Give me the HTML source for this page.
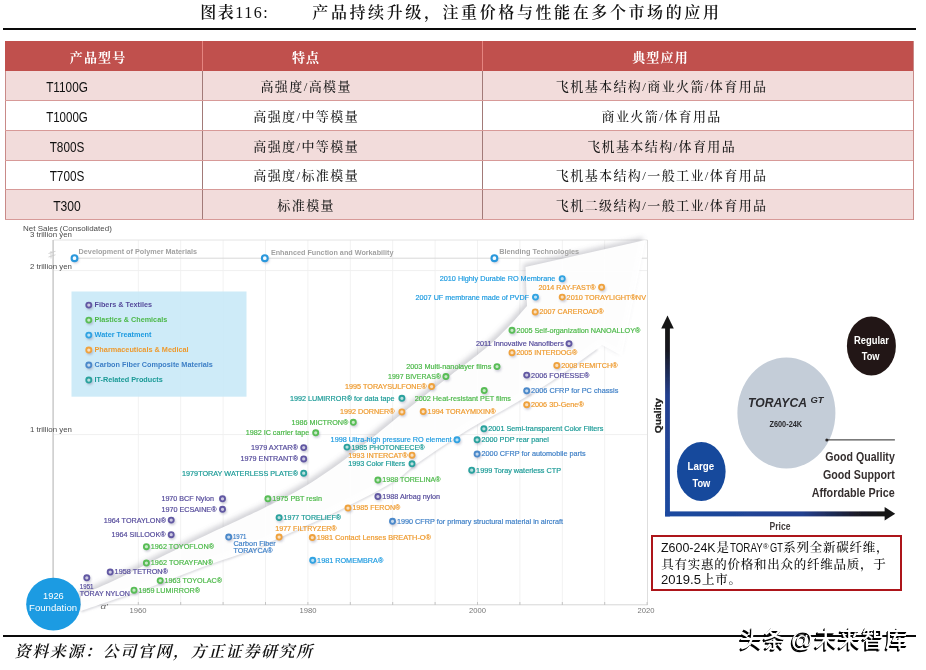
<!DOCTYPE html>
<html lang="zh-CN"><head><meta charset="utf-8"><title>图表116</title>
<style>
html,body{margin:0;padding:0;background:#fff;}
body{width:926px;height:670px;position:relative;overflow:hidden;font-family:"Liberation Sans", sans-serif;}
.abs{position:absolute;white-space:nowrap;}
.title{left:200.3px;top:1px;font:600 16px/24px "Liberation Serif", "Noto Serif CJK SC", serif;color:#111;}
.title .a{letter-spacing:1.5px}
.title .b{letter-spacing:2.6px;position:absolute;left:112px;top:0}
.rule{position:absolute;background:#0a0a0a;height:2px;}
.tbl{position:absolute;left:0;top:0;width:926px;height:222px;}
.row{position:absolute;left:5.2px;width:908.5px;box-sizing:border-box;border-bottom:1px solid #d79a98;}
.row.hd{background:#c0504d;border-bottom:none}
.row.odd{background:#f2dcdb}
.row.even{background:#fff}
.cell{position:absolute;top:0;height:100%;box-sizing:border-box;border-left:1px solid #a27a78;}
.row.hd .cell{border-left:1px solid #e58480;}
.cell.c0{border-left:1px solid #c98a88}
.row.hd .cell.c0{border-left:1px solid #c0504d}
.cell span{position:absolute;top:50%;transform:translate(-50%,-50%);white-space:nowrap;}
.kai{font:500 13px/20px "Liberation Serif", "Noto Serif CJK SC", serif;color:#1a1a1a;letter-spacing:1.4px;margin-top:1.6px;margin-left:.2px}
.lat{font:14px/20px "Liberation Sans", sans-serif;color:#111;margin-top:1.7px;margin-left:-1.2px}
.fit{display:inline-block;white-space:nowrap;vertical-align:baseline;}
.fit>span{display:inline-block;transform-origin:0 50%;white-space:nowrap;}
.cell span.fit,.cell span.fit>span{position:static;top:auto;}
.cell span.fit{transform:none}
.row.hd .kai{color:#fff;font-weight:bold;margin-top:2.2px;margin-left:-.9px;letter-spacing:1.2px}
.tblframe{position:absolute;left:5.2px;top:41.3px;width:908.5px;height:178.6px;box-sizing:border-box;border-right:1px solid #c98a88;pointer-events:none}
svg{position:absolute;left:0;top:0;}
svg text{font-family:"Liberation Sans", sans-serif;}
.note{position:absolute;left:651px;top:534.5px;width:250.5px;height:56px;box-sizing:border-box;border:2px solid #ad151a;background:#fff;}
.note p{margin:0;position:absolute;left:8.2px;white-space:nowrap;font:500 12.5px/16px "Liberation Serif", "Noto Serif CJK SC", serif;color:#111;letter-spacing:.75px}
.note p .fit{letter-spacing:0;margin-right:.75px}
.note p .fit.sup{position:relative;top:-3.5px}
.src{left:14.6px;top:640px;font:italic 600 16px/24px "Liberation Serif", "Noto Serif CJK SC", serif;color:#111;letter-spacing:1.6px;}
.wm{left:739.5px;top:622.5px;font:500 22.6px/34px "Liberation Sans","Noto Sans CJK SC",sans-serif;color:#fff;letter-spacing:1px;word-spacing:-3.4px;text-shadow:-.8px .8px 0 #000,-1.6px 1.6px 0 #000;}
</style></head><body>
<div class="abs title"><span class="a">图表<span style="font-weight:400">116:</span></span><span class="b">产品持续升级，注重价格与性能在多个市场的应用</span></div>
<div class="rule" style="left:3px;top:28.3px;width:912.7px"></div>
<div class="tbl">
<div class="row hd" style="top:41.3px;height:30.0px">
<div class="cell c0" style="left:0.0px;width:197.2px"><span class="kai" style="left:92.8px">产品型号</span></div>
<div class="cell c1" style="left:197.2px;width:280.0px"><span class="kai" style="left:103.6px">特点</span></div>
<div class="cell c2" style="left:477.2px;width:431.3px"><span class="kai" style="left:178.1px">典型应用</span></div>
</div>
<div class="row odd" style="top:71.3px;height:29.8px">
<div class="cell c0" style="left:0.0px;width:197.2px"><span class="lat" style="left:61.8px"><span class="fit " style="width:41.70px;font:14px/20px 'Liberation Sans',sans-serif"><span style="transform:scaleX(0.8416)">T1100G</span></span></span></div>
<div class="cell c1" style="left:197.2px;width:280.0px"><span class="kai" style="left:102.6px">高强度/高模量</span></div>
<div class="cell c2" style="left:477.2px;width:431.3px"><span class="kai" style="left:178.1px">飞机基本结构/商业火箭/体育用品</span></div>
</div>
<div class="row even" style="top:101.1px;height:29.7px">
<div class="cell c0" style="left:0.0px;width:197.2px"><span class="lat" style="left:61.8px"><span class="fit " style="width:41.70px;font:14px/20px 'Liberation Sans',sans-serif"><span style="transform:scaleX(0.8242)">T1000G</span></span></span></div>
<div class="cell c1" style="left:197.2px;width:280.0px"><span class="kai" style="left:102.6px">高强度/中等模量</span></div>
<div class="cell c2" style="left:477.2px;width:431.3px"><span class="kai" style="left:178.1px">商业火箭/体育用品</span></div>
</div>
<div class="row odd" style="top:130.8px;height:29.9px">
<div class="cell c0" style="left:0.0px;width:197.2px"><span class="lat" style="left:61.8px"><span class="fit " style="width:34.65px;font:14px/20px 'Liberation Sans',sans-serif"><span style="transform:scaleX(0.8400)">T800S</span></span></span></div>
<div class="cell c1" style="left:197.2px;width:280.0px"><span class="kai" style="left:102.6px">高强度/中等模量</span></div>
<div class="cell c2" style="left:477.2px;width:431.3px"><span class="kai" style="left:178.1px">飞机基本结构/体育用品</span></div>
</div>
<div class="row even" style="top:160.7px;height:29.2px">
<div class="cell c0" style="left:0.0px;width:197.2px"><span class="lat" style="left:61.8px"><span class="fit " style="width:34.65px;font:14px/20px 'Liberation Sans',sans-serif"><span style="transform:scaleX(0.8400)">T700S</span></span></span></div>
<div class="cell c1" style="left:197.2px;width:280.0px"><span class="kai" style="left:102.6px">高强度/标准模量</span></div>
<div class="cell c2" style="left:477.2px;width:431.3px"><span class="kai" style="left:178.1px">飞机基本结构/一般工业/体育用品</span></div>
</div>
<div class="row odd" style="top:189.9px;height:30.0px">
<div class="cell c0" style="left:0.0px;width:197.2px"><span class="lat" style="left:61.8px"><span class="fit " style="width:27.60px;font:14px/20px 'Liberation Sans',sans-serif"><span style="transform:scaleX(0.8646)">T300</span></span></span></div>
<div class="cell c1" style="left:197.2px;width:280.0px"><span class="kai" style="left:102.6px">标准模量</span></div>
<div class="cell c2" style="left:477.2px;width:431.3px"><span class="kai" style="left:178.1px">飞机二级结构/一般工业/体育用品</span></div>
</div>
</div>
<div class="tblframe"></div>
<svg width="926" height="670" viewBox="0 0 926 670">
<defs>
<filter id="sh" x="-50%" y="-50%" width="200%" height="200%"><feGaussianBlur stdDeviation="1"/></filter>
<filter id="soft2" filterUnits="userSpaceOnUse" x="0" y="215" width="700" height="425"><feGaussianBlur stdDeviation="0.3"/></filter>
<filter id="soft3" filterUnits="userSpaceOnUse" x="645" y="300" width="281" height="240"><feGaussianBlur stdDeviation="0.35"/></filter>
<filter id="sw1" x="-10%" y="-10%" width="120%" height="120%"><feGaussianBlur stdDeviation="1.3"/></filter>
<filter id="sw" x="-10%" y="-10%" width="120%" height="120%"><feGaussianBlur stdDeviation="2.8"/></filter>
<filter id="soft" filterUnits="userSpaceOnUse" x="0" y="220" width="700" height="420"><feGaussianBlur stdDeviation="0.4"/></filter>
<linearGradient id="gy" x1="0" y1="0" x2="0" y2="1"><stop offset="0" stop-color="#141414"/><stop offset=".12" stop-color="#17171e"/><stop offset=".36" stop-color="#24408f"/><stop offset="1" stop-color="#1a4aa0"/></linearGradient>
<linearGradient id="gx" x1="0" y1="0" x2="1" y2="0"><stop offset="0" stop-color="#1a4aa0"/><stop offset=".62" stop-color="#24408f"/><stop offset=".87" stop-color="#1a1a26"/><stop offset="1" stop-color="#141414"/></linearGradient>
</defs>
<g filter="url(#soft2)">
<line x1="138.3" y1="240" x2="138.3" y2="604" stroke="#f2f2f2" stroke-width="1"/>
<line x1="180.7" y1="240" x2="180.7" y2="604" stroke="#f2f2f2" stroke-width="1"/>
<line x1="223.1" y1="240" x2="223.1" y2="604" stroke="#f2f2f2" stroke-width="1"/>
<line x1="265.5" y1="240" x2="265.5" y2="604" stroke="#f2f2f2" stroke-width="1"/>
<line x1="307.9" y1="240" x2="307.9" y2="604" stroke="#f2f2f2" stroke-width="1"/>
<line x1="350.3" y1="240" x2="350.3" y2="604" stroke="#f2f2f2" stroke-width="1"/>
<line x1="392.7" y1="240" x2="392.7" y2="604" stroke="#f2f2f2" stroke-width="1"/>
<line x1="435.1" y1="240" x2="435.1" y2="604" stroke="#f2f2f2" stroke-width="1"/>
<line x1="477.5" y1="240" x2="477.5" y2="604" stroke="#f2f2f2" stroke-width="1"/>
<line x1="519.9" y1="240" x2="519.9" y2="604" stroke="#f2f2f2" stroke-width="1"/>
<line x1="562.3" y1="240" x2="562.3" y2="604" stroke="#f2f2f2" stroke-width="1"/>
<line x1="604.7" y1="240" x2="604.7" y2="604" stroke="#f2f2f2" stroke-width="1"/>
<line x1="53.5" y1="270.6" x2="647.5" y2="270.6" stroke="#f0f0f0" stroke-width="1"/>
<line x1="53.5" y1="434.6" x2="647.5" y2="434.6" stroke="#f0f0f0" stroke-width="1"/>
<line x1="53.5" y1="240" x2="647.5" y2="240" stroke="#e4e4e4" stroke-width="1"/>
<line x1="647.5" y1="240" x2="647.5" y2="605" stroke="#dedede" stroke-width="1"/>
<line x1="53.1" y1="240" x2="53.1" y2="580" stroke="#c6c6c6" stroke-width="1.4"/>
<line x1="74" y1="258.2" x2="647" y2="258.2" stroke="#d8d8d8" stroke-width="1"/>
<line x1="80" y1="604.8" x2="647.5" y2="604.8" stroke="#d6d6d6" stroke-width="1"/>
<line x1="138.3" y1="602" x2="138.3" y2="605" stroke="#c4c4c4" stroke-width="1"/>
<line x1="180.7" y1="602" x2="180.7" y2="605" stroke="#c4c4c4" stroke-width="1"/>
<line x1="223.1" y1="602" x2="223.1" y2="605" stroke="#c4c4c4" stroke-width="1"/>
<line x1="265.5" y1="602" x2="265.5" y2="605" stroke="#c4c4c4" stroke-width="1"/>
<line x1="307.9" y1="602" x2="307.9" y2="605" stroke="#c4c4c4" stroke-width="1"/>
<line x1="350.3" y1="602" x2="350.3" y2="605" stroke="#c4c4c4" stroke-width="1"/>
<line x1="392.7" y1="602" x2="392.7" y2="605" stroke="#c4c4c4" stroke-width="1"/>
<line x1="435.1" y1="602" x2="435.1" y2="605" stroke="#c4c4c4" stroke-width="1"/>
<line x1="477.5" y1="602" x2="477.5" y2="605" stroke="#c4c4c4" stroke-width="1"/>
<line x1="519.9" y1="602" x2="519.9" y2="605" stroke="#c4c4c4" stroke-width="1"/>
<line x1="562.3" y1="602" x2="562.3" y2="605" stroke="#c4c4c4" stroke-width="1"/>
<line x1="604.7" y1="602" x2="604.7" y2="605" stroke="#c4c4c4" stroke-width="1"/>
<line x1="647.1" y1="602" x2="647.1" y2="605" stroke="#c4c4c4" stroke-width="1"/>
<path d="M48.5,253.5 l7,-2.2 M48.5,257 l7,-2.2 M51,251 l0,7.5" stroke="#c8c8c8" stroke-width=".8" fill="none"/>
<rect x="71.5" y="291.5" width="175" height="105.2" fill="#cae9f8" fill-opacity=".93"/>
<path d="M81.0,595.0 C86.3,592.7 100.5,586.9 113.0,581.0 C125.5,575.1 141.5,566.7 156.0,559.5 C170.5,552.3 185.5,544.9 200.0,538.0 C214.5,531.1 231.3,523.5 243.0,518.0 C254.7,512.5 259.8,510.2 270.0,505.0 C280.2,499.8 292.3,494.0 304.0,487.0 C315.7,480.0 328.7,471.2 340.0,463.0 C351.3,454.8 359.7,447.8 372.0,438.0 C384.3,428.2 400.8,414.5 414.0,404.0 C427.2,393.5 440.7,383.0 451.0,375.0 C461.3,367.0 468.8,361.7 476.0,356.0 C483.2,350.3 488.0,346.5 494.0,341.0 C500.0,335.5 506.5,328.8 512.0,323.0 C517.5,317.2 524.5,308.8 527.0,306.0 L525.5,267 L645.6,240 L622,356 L602,345 L597,349 C589.5,354.3 567.0,371.2 552.0,381.0 C537.0,390.8 521.3,399.7 507.0,408.0 C492.7,416.3 480.8,421.8 466.0,431.0 C451.2,440.2 430.2,454.5 418.0,463.0 C405.8,471.5 406.0,474.2 393.0,482.0 C380.0,489.8 360.5,500.0 340.0,510.0 C319.5,520.0 286.2,534.8 270.0,542.0 C253.8,549.2 254.7,548.7 243.0,553.0 C231.3,557.3 214.5,562.7 200.0,568.0 C185.5,573.3 175.8,577.8 156.0,585.0 C136.2,592.2 93.5,606.7 81.0,611.0 Z" fill="#8c8c98" opacity=".37" filter="url(#sw)" transform="translate(-2.5,-3)"/>
<path d="M597,349 C589.5,354.3 567.0,371.2 552.0,381.0 C537.0,390.8 521.3,399.7 507.0,408.0 C492.7,416.3 480.8,421.8 466.0,431.0 C451.2,440.2 430.2,454.5 418.0,463.0 C405.8,471.5 406.0,474.2 393.0,482.0 C380.0,489.8 360.5,500.0 340.0,510.0 C319.5,520.0 286.2,534.8 270.0,542.0 C253.8,549.2 254.7,548.7 243.0,553.0 C231.3,557.3 214.5,562.7 200.0,568.0 C185.5,573.3 175.8,577.8 156.0,585.0 C136.2,592.2 93.5,606.7 81.0,611.0" fill="none" stroke="#b0b0ba" stroke-width="2.6" opacity=".5" filter="url(#sw1)"/>
<path d="M81.0,595.0 C86.3,592.7 100.5,586.9 113.0,581.0 C125.5,575.1 141.5,566.7 156.0,559.5 C170.5,552.3 185.5,544.9 200.0,538.0 C214.5,531.1 231.3,523.5 243.0,518.0 C254.7,512.5 259.8,510.2 270.0,505.0 C280.2,499.8 292.3,494.0 304.0,487.0 C315.7,480.0 328.7,471.2 340.0,463.0 C351.3,454.8 359.7,447.8 372.0,438.0 C384.3,428.2 400.8,414.5 414.0,404.0 C427.2,393.5 440.7,383.0 451.0,375.0 C461.3,367.0 468.8,361.7 476.0,356.0 C483.2,350.3 488.0,346.5 494.0,341.0 C500.0,335.5 506.5,328.8 512.0,323.0 C517.5,317.2 524.5,308.8 527.0,306.0 L525.5,267 L645.6,240 L622,356 L602,345 L597,349 C589.5,354.3 567.0,371.2 552.0,381.0 C537.0,390.8 521.3,399.7 507.0,408.0 C492.7,416.3 480.8,421.8 466.0,431.0 C451.2,440.2 430.2,454.5 418.0,463.0 C405.8,471.5 406.0,474.2 393.0,482.0 C380.0,489.8 360.5,500.0 340.0,510.0 C319.5,520.0 286.2,534.8 270.0,542.0 C253.8,549.2 254.7,548.7 243.0,553.0 C231.3,557.3 214.5,562.7 200.0,568.0 C185.5,573.3 175.8,577.8 156.0,585.0 C136.2,592.2 93.5,606.7 81.0,611.0 Z" fill="#ffffff" opacity=".97"/>
<circle cx="75.5" cy="259.8" r="3.6" fill="#7a7a98" opacity=".35" filter="url(#sh)"/>
<circle cx="74.5" cy="258.2" r="2.9" fill="#f4fbff" stroke="#2b98dc" stroke-width="2.1"/>
<text x="78.6" y="254.1" font-size="7" fill="#a2a2a2" font-weight="bold" text-anchor="start" textLength="118.4" lengthAdjust="spacingAndGlyphs" >Development of Polymer Materials</text>
<circle cx="265.8" cy="259.8" r="3.6" fill="#7a7a98" opacity=".35" filter="url(#sh)"/>
<circle cx="264.8" cy="258.2" r="2.9" fill="#f4fbff" stroke="#2b98dc" stroke-width="2.1"/>
<text x="270.9" y="254.7" font-size="7" fill="#a2a2a2" font-weight="bold" text-anchor="start" textLength="122.6" lengthAdjust="spacingAndGlyphs" >Enhanced Function and Workability</text>
<circle cx="495.4" cy="259.8" r="3.6" fill="#7a7a98" opacity=".35" filter="url(#sh)"/>
<circle cx="494.4" cy="258.2" r="2.9" fill="#f4fbff" stroke="#2b98dc" stroke-width="2.1"/>
<text x="499.2" y="254.3" font-size="7" fill="#a2a2a2" font-weight="bold" text-anchor="start" textLength="80.0" lengthAdjust="spacingAndGlyphs" >Blending Technologies</text>
<text x="23.0" y="230.8" font-size="8" fill="#4a4a4a" font-weight="normal" text-anchor="start" textLength="88.8" lengthAdjust="spacingAndGlyphs" >Net Sales (Consolidated)</text>
<text x="30.0" y="237.3" font-size="7.6" fill="#4a4a4a" font-weight="normal" text-anchor="start" textLength="42.0" lengthAdjust="spacingAndGlyphs" >3 trillion yen</text>
<text x="30.0" y="268.7" font-size="7.6" fill="#4a4a4a" font-weight="normal" text-anchor="start" textLength="42.0" lengthAdjust="spacingAndGlyphs" >2 trillion yen</text>
<text x="30.0" y="432.3" font-size="7.6" fill="#4a4a4a" font-weight="normal" text-anchor="start" textLength="42.0" lengthAdjust="spacingAndGlyphs" >1 trillion yen</text>
<text x="129.5" y="613.2" font-size="7.4" fill="#777" font-weight="normal" text-anchor="start" textLength="17.0" lengthAdjust="spacingAndGlyphs" >1960</text>
<text x="299.5" y="613.2" font-size="7.4" fill="#777" font-weight="normal" text-anchor="start" textLength="17.0" lengthAdjust="spacingAndGlyphs" >1980</text>
<text x="469.0" y="613.2" font-size="7.4" fill="#777" font-weight="normal" text-anchor="start" textLength="17.0" lengthAdjust="spacingAndGlyphs" >2000</text>
<text x="637.6" y="613.2" font-size="7.4" fill="#777" font-weight="normal" text-anchor="start" textLength="17.0" lengthAdjust="spacingAndGlyphs" >2020</text>
<text x="100.5" y="608.8" font-size="8" fill="#666" font-weight="normal" text-anchor="start" textLength="7.5" lengthAdjust="spacingAndGlyphs" font-style="italic">α'</text>
<circle cx="89.8" cy="306.7" r="3.4" fill="#7a7a98" opacity=".38" filter="url(#sh)"/>
<circle cx="88.8" cy="305.1" r="2.55" fill="#ccc9e1" stroke="#6259a3" stroke-width="1.85"/>
<text x="94.5" y="307.0" font-size="7" fill="#554b9b" font-weight="bold" text-anchor="start" textLength="57.5" lengthAdjust="spacingAndGlyphs" >Fibers &amp; Textiles</text>
<circle cx="89.8" cy="321.7" r="3.4" fill="#7a7a98" opacity=".38" filter="url(#sh)"/>
<circle cx="88.8" cy="320.1" r="2.55" fill="#c9e9c8" stroke="#59bd56" stroke-width="1.85"/>
<text x="94.5" y="322.0" font-size="7" fill="#4bb848" font-weight="bold" text-anchor="start" textLength="72.7" lengthAdjust="spacingAndGlyphs" >Plastics &amp; Chemicals</text>
<circle cx="89.8" cy="336.7" r="3.4" fill="#7a7a98" opacity=".38" filter="url(#sh)"/>
<circle cx="88.8" cy="335.1" r="2.55" fill="#bbe1f5" stroke="#30a3e2" stroke-width="1.85"/>
<text x="94.5" y="336.9" font-size="7" fill="#1e9be0" font-weight="bold" text-anchor="start" textLength="57.0" lengthAdjust="spacingAndGlyphs" >Water Treatment</text>
<circle cx="89.8" cy="351.6" r="3.4" fill="#7a7a98" opacity=".38" filter="url(#sh)"/>
<circle cx="88.8" cy="350.0" r="2.55" fill="#f9e0c0" stroke="#efa23e" stroke-width="1.85"/>
<text x="94.5" y="351.9" font-size="7" fill="#ee9a2e" font-weight="bold" text-anchor="start" textLength="94.1" lengthAdjust="spacingAndGlyphs" >Pharmaceuticals &amp; Medical</text>
<circle cx="89.8" cy="366.6" r="3.4" fill="#7a7a98" opacity=".38" filter="url(#sh)"/>
<circle cx="88.8" cy="365.0" r="2.55" fill="#c4d8ed" stroke="#4c89ca" stroke-width="1.85"/>
<text x="94.5" y="366.9" font-size="7" fill="#3d7fc6" font-weight="bold" text-anchor="start" textLength="118.4" lengthAdjust="spacingAndGlyphs" >Carbon Fiber Composite Materials</text>
<circle cx="89.8" cy="381.6" r="3.4" fill="#7a7a98" opacity=".38" filter="url(#sh)"/>
<circle cx="88.8" cy="380.0" r="2.55" fill="#bae0df" stroke="#2ca29e" stroke-width="1.85"/>
<text x="94.5" y="381.9" font-size="7" fill="#1a9a96" font-weight="bold" text-anchor="start" textLength="68.2" lengthAdjust="spacingAndGlyphs" >IT-Related Products</text>
<g filter="url(#soft)">
<circle cx="87.8" cy="579.4" r="3.4" fill="#7a7a98" opacity=".38" filter="url(#sh)"/>
<circle cx="86.8" cy="577.8" r="2.55" fill="#ccc9e1" stroke="#6259a3" stroke-width="1.85"/>
<circle cx="111.2" cy="573.6" r="3.4" fill="#7a7a98" opacity=".38" filter="url(#sh)"/>
<circle cx="110.2" cy="572.0" r="2.55" fill="#ccc9e1" stroke="#6259a3" stroke-width="1.85"/>
<circle cx="172.2" cy="521.7" r="3.4" fill="#7a7a98" opacity=".38" filter="url(#sh)"/>
<circle cx="171.2" cy="520.1" r="2.55" fill="#ccc9e1" stroke="#6259a3" stroke-width="1.85"/>
<circle cx="172.2" cy="536.3" r="3.4" fill="#7a7a98" opacity=".38" filter="url(#sh)"/>
<circle cx="171.2" cy="534.7" r="2.55" fill="#ccc9e1" stroke="#6259a3" stroke-width="1.85"/>
<circle cx="223.5" cy="500.4" r="3.4" fill="#7a7a98" opacity=".38" filter="url(#sh)"/>
<circle cx="222.5" cy="498.8" r="2.55" fill="#ccc9e1" stroke="#6259a3" stroke-width="1.85"/>
<circle cx="223.5" cy="510.9" r="3.4" fill="#7a7a98" opacity=".38" filter="url(#sh)"/>
<circle cx="222.5" cy="509.3" r="2.55" fill="#ccc9e1" stroke="#6259a3" stroke-width="1.85"/>
<circle cx="304.7" cy="449.2" r="3.4" fill="#7a7a98" opacity=".38" filter="url(#sh)"/>
<circle cx="303.7" cy="447.6" r="2.55" fill="#ccc9e1" stroke="#6259a3" stroke-width="1.85"/>
<circle cx="304.7" cy="460.5" r="3.4" fill="#7a7a98" opacity=".38" filter="url(#sh)"/>
<circle cx="303.7" cy="458.9" r="2.55" fill="#ccc9e1" stroke="#6259a3" stroke-width="1.85"/>
<circle cx="378.9" cy="498.1" r="3.4" fill="#7a7a98" opacity=".38" filter="url(#sh)"/>
<circle cx="377.9" cy="496.5" r="2.55" fill="#ccc9e1" stroke="#6259a3" stroke-width="1.85"/>
<circle cx="570.0" cy="345.2" r="3.4" fill="#7a7a98" opacity=".38" filter="url(#sh)"/>
<circle cx="569.0" cy="343.6" r="2.55" fill="#ccc9e1" stroke="#6259a3" stroke-width="1.85"/>
<circle cx="527.7" cy="376.7" r="3.4" fill="#7a7a98" opacity=".38" filter="url(#sh)"/>
<circle cx="526.7" cy="375.1" r="2.55" fill="#ccc9e1" stroke="#6259a3" stroke-width="1.85"/>
<circle cx="135.0" cy="591.8" r="3.4" fill="#7a7a98" opacity=".38" filter="url(#sh)"/>
<circle cx="134.0" cy="590.2" r="2.55" fill="#c9e9c8" stroke="#59bd56" stroke-width="1.85"/>
<circle cx="147.4" cy="548.3" r="3.4" fill="#7a7a98" opacity=".38" filter="url(#sh)"/>
<circle cx="146.4" cy="546.7" r="2.55" fill="#c9e9c8" stroke="#59bd56" stroke-width="1.85"/>
<circle cx="147.4" cy="564.6" r="3.4" fill="#7a7a98" opacity=".38" filter="url(#sh)"/>
<circle cx="146.4" cy="563.0" r="2.55" fill="#c9e9c8" stroke="#59bd56" stroke-width="1.85"/>
<circle cx="161.2" cy="582.2" r="3.4" fill="#7a7a98" opacity=".38" filter="url(#sh)"/>
<circle cx="160.2" cy="580.6" r="2.55" fill="#c9e9c8" stroke="#59bd56" stroke-width="1.85"/>
<circle cx="268.9" cy="500.4" r="3.4" fill="#7a7a98" opacity=".38" filter="url(#sh)"/>
<circle cx="267.9" cy="498.8" r="2.55" fill="#c9e9c8" stroke="#59bd56" stroke-width="1.85"/>
<circle cx="316.7" cy="434.4" r="3.4" fill="#7a7a98" opacity=".38" filter="url(#sh)"/>
<circle cx="315.7" cy="432.8" r="2.55" fill="#c9e9c8" stroke="#59bd56" stroke-width="1.85"/>
<circle cx="354.3" cy="423.9" r="3.4" fill="#7a7a98" opacity=".38" filter="url(#sh)"/>
<circle cx="353.3" cy="422.3" r="2.55" fill="#c9e9c8" stroke="#59bd56" stroke-width="1.85"/>
<circle cx="378.9" cy="481.6" r="3.4" fill="#7a7a98" opacity=".38" filter="url(#sh)"/>
<circle cx="377.9" cy="480.0" r="2.55" fill="#c9e9c8" stroke="#59bd56" stroke-width="1.85"/>
<circle cx="446.9" cy="378.1" r="3.4" fill="#7a7a98" opacity=".38" filter="url(#sh)"/>
<circle cx="445.9" cy="376.5" r="2.55" fill="#c9e9c8" stroke="#59bd56" stroke-width="1.85"/>
<circle cx="498.0" cy="368.2" r="3.4" fill="#7a7a98" opacity=".38" filter="url(#sh)"/>
<circle cx="497.0" cy="366.6" r="2.55" fill="#c9e9c8" stroke="#59bd56" stroke-width="1.85"/>
<circle cx="485.2" cy="392.1" r="3.4" fill="#7a7a98" opacity=".38" filter="url(#sh)"/>
<circle cx="484.2" cy="390.5" r="2.55" fill="#c9e9c8" stroke="#59bd56" stroke-width="1.85"/>
<circle cx="513.0" cy="331.9" r="3.4" fill="#7a7a98" opacity=".38" filter="url(#sh)"/>
<circle cx="512.0" cy="330.3" r="2.55" fill="#c9e9c8" stroke="#59bd56" stroke-width="1.85"/>
<circle cx="313.7" cy="561.9" r="3.4" fill="#7a7a98" opacity=".38" filter="url(#sh)"/>
<circle cx="312.7" cy="560.3" r="2.55" fill="#bbe1f5" stroke="#30a3e2" stroke-width="1.85"/>
<circle cx="458.0" cy="441.4" r="3.4" fill="#7a7a98" opacity=".38" filter="url(#sh)"/>
<circle cx="457.0" cy="439.8" r="2.55" fill="#bbe1f5" stroke="#30a3e2" stroke-width="1.85"/>
<circle cx="536.5" cy="298.7" r="3.4" fill="#7a7a98" opacity=".38" filter="url(#sh)"/>
<circle cx="535.5" cy="297.1" r="2.55" fill="#bbe1f5" stroke="#30a3e2" stroke-width="1.85"/>
<circle cx="563.2" cy="280.3" r="3.4" fill="#7a7a98" opacity=".38" filter="url(#sh)"/>
<circle cx="562.2" cy="278.7" r="2.55" fill="#bbe1f5" stroke="#30a3e2" stroke-width="1.85"/>
<circle cx="280.1" cy="538.6" r="3.4" fill="#7a7a98" opacity=".38" filter="url(#sh)"/>
<circle cx="279.1" cy="537.0" r="2.55" fill="#f9e0c0" stroke="#efa23e" stroke-width="1.85"/>
<circle cx="313.3" cy="539.1" r="3.4" fill="#7a7a98" opacity=".38" filter="url(#sh)"/>
<circle cx="312.3" cy="537.5" r="2.55" fill="#f9e0c0" stroke="#efa23e" stroke-width="1.85"/>
<circle cx="349.0" cy="509.6" r="3.4" fill="#7a7a98" opacity=".38" filter="url(#sh)"/>
<circle cx="348.0" cy="508.0" r="2.55" fill="#f9e0c0" stroke="#efa23e" stroke-width="1.85"/>
<circle cx="402.9" cy="413.5" r="3.4" fill="#7a7a98" opacity=".38" filter="url(#sh)"/>
<circle cx="401.9" cy="411.9" r="2.55" fill="#f9e0c0" stroke="#efa23e" stroke-width="1.85"/>
<circle cx="413.0" cy="456.8" r="3.4" fill="#7a7a98" opacity=".38" filter="url(#sh)"/>
<circle cx="412.0" cy="455.2" r="2.55" fill="#f9e0c0" stroke="#efa23e" stroke-width="1.85"/>
<circle cx="424.2" cy="413.1" r="3.4" fill="#7a7a98" opacity=".38" filter="url(#sh)"/>
<circle cx="423.2" cy="411.5" r="2.55" fill="#f9e0c0" stroke="#efa23e" stroke-width="1.85"/>
<circle cx="432.6" cy="388.1" r="3.4" fill="#7a7a98" opacity=".38" filter="url(#sh)"/>
<circle cx="431.6" cy="386.5" r="2.55" fill="#f9e0c0" stroke="#efa23e" stroke-width="1.85"/>
<circle cx="513.0" cy="354.3" r="3.4" fill="#7a7a98" opacity=".38" filter="url(#sh)"/>
<circle cx="512.0" cy="352.7" r="2.55" fill="#f9e0c0" stroke="#efa23e" stroke-width="1.85"/>
<circle cx="527.7" cy="406.3" r="3.4" fill="#7a7a98" opacity=".38" filter="url(#sh)"/>
<circle cx="526.7" cy="404.7" r="2.55" fill="#f9e0c0" stroke="#efa23e" stroke-width="1.85"/>
<circle cx="536.2" cy="313.5" r="3.4" fill="#7a7a98" opacity=".38" filter="url(#sh)"/>
<circle cx="535.2" cy="311.9" r="2.55" fill="#f9e0c0" stroke="#efa23e" stroke-width="1.85"/>
<circle cx="557.8" cy="367.0" r="3.4" fill="#7a7a98" opacity=".38" filter="url(#sh)"/>
<circle cx="556.8" cy="365.4" r="2.55" fill="#f9e0c0" stroke="#efa23e" stroke-width="1.85"/>
<circle cx="563.2" cy="298.7" r="3.4" fill="#7a7a98" opacity=".38" filter="url(#sh)"/>
<circle cx="562.2" cy="297.1" r="2.55" fill="#f9e0c0" stroke="#efa23e" stroke-width="1.85"/>
<circle cx="602.6" cy="288.8" r="3.4" fill="#7a7a98" opacity=".38" filter="url(#sh)"/>
<circle cx="601.6" cy="287.2" r="2.55" fill="#f9e0c0" stroke="#efa23e" stroke-width="1.85"/>
<circle cx="229.7" cy="538.6" r="3.4" fill="#7a7a98" opacity=".38" filter="url(#sh)"/>
<circle cx="228.7" cy="537.0" r="2.55" fill="#c4d8ed" stroke="#4c89ca" stroke-width="1.85"/>
<circle cx="393.5" cy="522.9" r="3.4" fill="#7a7a98" opacity=".38" filter="url(#sh)"/>
<circle cx="392.5" cy="521.3" r="2.55" fill="#c4d8ed" stroke="#4c89ca" stroke-width="1.85"/>
<circle cx="478.1" cy="455.6" r="3.4" fill="#7a7a98" opacity=".38" filter="url(#sh)"/>
<circle cx="477.1" cy="454.0" r="2.55" fill="#c4d8ed" stroke="#4c89ca" stroke-width="1.85"/>
<circle cx="527.7" cy="392.4" r="3.4" fill="#7a7a98" opacity=".38" filter="url(#sh)"/>
<circle cx="526.7" cy="390.8" r="2.55" fill="#c4d8ed" stroke="#4c89ca" stroke-width="1.85"/>
<circle cx="280.1" cy="519.2" r="3.4" fill="#7a7a98" opacity=".38" filter="url(#sh)"/>
<circle cx="279.1" cy="517.6" r="2.55" fill="#bae0df" stroke="#2ca29e" stroke-width="1.85"/>
<circle cx="304.7" cy="474.8" r="3.4" fill="#7a7a98" opacity=".38" filter="url(#sh)"/>
<circle cx="303.7" cy="473.2" r="2.55" fill="#bae0df" stroke="#2ca29e" stroke-width="1.85"/>
<circle cx="348.0" cy="448.7" r="3.4" fill="#7a7a98" opacity=".38" filter="url(#sh)"/>
<circle cx="347.0" cy="447.1" r="2.55" fill="#bae0df" stroke="#2ca29e" stroke-width="1.85"/>
<circle cx="402.9" cy="399.9" r="3.4" fill="#7a7a98" opacity=".38" filter="url(#sh)"/>
<circle cx="401.9" cy="398.3" r="2.55" fill="#bae0df" stroke="#2ca29e" stroke-width="1.85"/>
<circle cx="413.0" cy="465.4" r="3.4" fill="#7a7a98" opacity=".38" filter="url(#sh)"/>
<circle cx="412.0" cy="463.8" r="2.55" fill="#bae0df" stroke="#2ca29e" stroke-width="1.85"/>
<circle cx="472.7" cy="471.8" r="3.4" fill="#7a7a98" opacity=".38" filter="url(#sh)"/>
<circle cx="471.7" cy="470.2" r="2.55" fill="#bae0df" stroke="#2ca29e" stroke-width="1.85"/>
<circle cx="478.1" cy="441.4" r="3.4" fill="#7a7a98" opacity=".38" filter="url(#sh)"/>
<circle cx="477.1" cy="439.8" r="2.55" fill="#bae0df" stroke="#2ca29e" stroke-width="1.85"/>
<circle cx="484.9" cy="430.4" r="3.4" fill="#7a7a98" opacity=".38" filter="url(#sh)"/>
<circle cx="483.9" cy="428.8" r="2.55" fill="#bae0df" stroke="#2ca29e" stroke-width="1.85"/>
<text x="79.8" y="588.7" font-size="6.9" fill="#554b9b" font-weight="normal" text-anchor="start" textLength="13.7" lengthAdjust="spacingAndGlyphs" stroke="#554b9b" stroke-width=".18">1951</text>
<text x="79.8" y="595.7" font-size="6.9" fill="#554b9b" font-weight="normal" text-anchor="start" textLength="50.2" lengthAdjust="spacingAndGlyphs" stroke="#554b9b" stroke-width=".18">TORAY NYLON</text>
<text x="114.6" y="574.4" font-size="6.9" fill="#554b9b" font-weight="normal" text-anchor="start" textLength="53.4" lengthAdjust="spacingAndGlyphs" stroke="#554b9b" stroke-width=".18">1958 TETRON®</text>
<text x="103.7" y="522.5" font-size="6.9" fill="#554b9b" font-weight="normal" text-anchor="start" textLength="62.3" lengthAdjust="spacingAndGlyphs" stroke="#554b9b" stroke-width=".18">1964 TORAYLON®</text>
<text x="111.5" y="537.1" font-size="6.9" fill="#554b9b" font-weight="normal" text-anchor="start" textLength="54.0" lengthAdjust="spacingAndGlyphs" stroke="#554b9b" stroke-width=".18">1964 SILLOOK®</text>
<text x="161.4" y="501.2" font-size="6.9" fill="#554b9b" font-weight="normal" text-anchor="start" textLength="52.6" lengthAdjust="spacingAndGlyphs" stroke="#554b9b" stroke-width=".18">1970 BCF Nylon</text>
<text x="161.4" y="511.7" font-size="6.9" fill="#554b9b" font-weight="normal" text-anchor="start" textLength="55.1" lengthAdjust="spacingAndGlyphs" stroke="#554b9b" stroke-width=".18">1970 ECSAINE®</text>
<text x="251.0" y="450.0" font-size="6.9" fill="#554b9b" font-weight="normal" text-anchor="start" textLength="47.0" lengthAdjust="spacingAndGlyphs" stroke="#554b9b" stroke-width=".18">1979 AXTAR®</text>
<text x="240.5" y="461.3" font-size="6.9" fill="#554b9b" font-weight="normal" text-anchor="start" textLength="57.5" lengthAdjust="spacingAndGlyphs" stroke="#554b9b" stroke-width=".18">1979 ENTRANT®</text>
<text x="382.3" y="498.9" font-size="6.9" fill="#554b9b" font-weight="normal" text-anchor="start" textLength="57.7" lengthAdjust="spacingAndGlyphs" stroke="#554b9b" stroke-width=".18">1988 Airbag nylon</text>
<text x="476.0" y="346.0" font-size="6.9" fill="#554b9b" font-weight="normal" text-anchor="start" textLength="87.9" lengthAdjust="spacingAndGlyphs" stroke="#554b9b" stroke-width=".18">2011 Innovative Nanofibers</text>
<text x="531.1" y="377.5" font-size="6.9" fill="#554b9b" font-weight="normal" text-anchor="start" textLength="58.3" lengthAdjust="spacingAndGlyphs" stroke="#554b9b" stroke-width=".18">2006 FORESSE®</text>
<text x="138.4" y="592.6" font-size="6.9" fill="#4bb848" font-weight="normal" text-anchor="start" textLength="61.6" lengthAdjust="spacingAndGlyphs" stroke="#4bb848" stroke-width=".18">1959 LUMIRROR®</text>
<text x="150.8" y="549.1" font-size="6.9" fill="#4bb848" font-weight="normal" text-anchor="start" textLength="63.2" lengthAdjust="spacingAndGlyphs" stroke="#4bb848" stroke-width=".18">1962 TOYOFLON®</text>
<text x="150.8" y="565.4" font-size="6.9" fill="#4bb848" font-weight="normal" text-anchor="start" textLength="62.2" lengthAdjust="spacingAndGlyphs" stroke="#4bb848" stroke-width=".18">1962 TORAYFAN®</text>
<text x="164.6" y="583.0" font-size="6.9" fill="#4bb848" font-weight="normal" text-anchor="start" textLength="57.4" lengthAdjust="spacingAndGlyphs" stroke="#4bb848" stroke-width=".18">1963 TOYOLAC®</text>
<text x="272.3" y="501.2" font-size="6.9" fill="#4bb848" font-weight="normal" text-anchor="start" textLength="49.7" lengthAdjust="spacingAndGlyphs" stroke="#4bb848" stroke-width=".18">1975 PBT resin</text>
<text x="245.7" y="435.2" font-size="6.9" fill="#4bb848" font-weight="normal" text-anchor="start" textLength="63.5" lengthAdjust="spacingAndGlyphs" stroke="#4bb848" stroke-width=".18">1982 IC carrier tape</text>
<text x="291.4" y="424.7" font-size="6.9" fill="#4bb848" font-weight="normal" text-anchor="start" textLength="56.9" lengthAdjust="spacingAndGlyphs" stroke="#4bb848" stroke-width=".18">1986 MICTRON®</text>
<text x="382.3" y="482.4" font-size="6.9" fill="#4bb848" font-weight="normal" text-anchor="start" textLength="58.2" lengthAdjust="spacingAndGlyphs" stroke="#4bb848" stroke-width=".18">1988 TORELINA®</text>
<text x="388.0" y="378.9" font-size="6.9" fill="#4bb848" font-weight="normal" text-anchor="start" textLength="53.0" lengthAdjust="spacingAndGlyphs" stroke="#4bb848" stroke-width=".18">1997 BIVERAS®</text>
<text x="406.2" y="369.0" font-size="6.9" fill="#4bb848" font-weight="normal" text-anchor="start" textLength="85.1" lengthAdjust="spacingAndGlyphs" stroke="#4bb848" stroke-width=".18">2003 Multi-nanolayer films</text>
<text x="414.7" y="401.4" font-size="6.9" fill="#4bb848" font-weight="normal" text-anchor="start" textLength="96.3" lengthAdjust="spacingAndGlyphs" stroke="#4bb848" stroke-width=".18">2002 Heat-resistant PET films</text>
<text x="516.4" y="332.7" font-size="6.9" fill="#4bb848" font-weight="normal" text-anchor="start" textLength="124.0" lengthAdjust="spacingAndGlyphs" stroke="#4bb848" stroke-width=".18">2005 Self-organization NANOALLOY®</text>
<text x="317.1" y="562.7" font-size="6.9" fill="#1e9be0" font-weight="normal" text-anchor="start" textLength="66.2" lengthAdjust="spacingAndGlyphs" stroke="#1e9be0" stroke-width=".18">1981 ROMEMBRA®</text>
<text x="330.6" y="442.2" font-size="6.9" fill="#1e9be0" font-weight="normal" text-anchor="start" textLength="121.0" lengthAdjust="spacingAndGlyphs" stroke="#1e9be0" stroke-width=".18">1998 Ultra-high pressure RO element</text>
<text x="415.6" y="299.5" font-size="6.9" fill="#1e9be0" font-weight="normal" text-anchor="start" textLength="113.4" lengthAdjust="spacingAndGlyphs" stroke="#1e9be0" stroke-width=".18">2007 UF membrane made of PVDF</text>
<text x="439.7" y="281.1" font-size="6.9" fill="#1e9be0" font-weight="normal" text-anchor="start" textLength="115.7" lengthAdjust="spacingAndGlyphs" stroke="#1e9be0" stroke-width=".18">2010 Highly Durable RO Membrane</text>
<text x="275.2" y="530.7" font-size="6.9" fill="#ee9a2e" font-weight="normal" text-anchor="start" textLength="61.4" lengthAdjust="spacingAndGlyphs" stroke="#ee9a2e" stroke-width=".18">1977 FILTRYZER®</text>
<text x="316.7" y="539.9" font-size="6.9" fill="#ee9a2e" font-weight="normal" text-anchor="start" textLength="114.3" lengthAdjust="spacingAndGlyphs" stroke="#ee9a2e" stroke-width=".18">1981 Contact Lenses BREATH-O®</text>
<text x="352.4" y="510.4" font-size="6.9" fill="#ee9a2e" font-weight="normal" text-anchor="start" textLength="47.9" lengthAdjust="spacingAndGlyphs" stroke="#ee9a2e" stroke-width=".18">1985 FERON®</text>
<text x="340.0" y="414.3" font-size="6.9" fill="#ee9a2e" font-weight="normal" text-anchor="start" textLength="54.6" lengthAdjust="spacingAndGlyphs" stroke="#ee9a2e" stroke-width=".18">1992 DORNER®</text>
<text x="348.3" y="457.6" font-size="6.9" fill="#ee9a2e" font-weight="normal" text-anchor="start" textLength="59.3" lengthAdjust="spacingAndGlyphs" stroke="#ee9a2e" stroke-width=".18">1993 INTERCAT®</text>
<text x="427.6" y="413.9" font-size="6.9" fill="#ee9a2e" font-weight="normal" text-anchor="start" textLength="67.9" lengthAdjust="spacingAndGlyphs" stroke="#ee9a2e" stroke-width=".18">1994 TORAYMIXIN®</text>
<text x="345.0" y="388.9" font-size="6.9" fill="#ee9a2e" font-weight="normal" text-anchor="start" textLength="81.7" lengthAdjust="spacingAndGlyphs" stroke="#ee9a2e" stroke-width=".18">1995 TORAYSULFONE®</text>
<text x="516.4" y="355.1" font-size="6.9" fill="#ee9a2e" font-weight="normal" text-anchor="start" textLength="60.8" lengthAdjust="spacingAndGlyphs" stroke="#ee9a2e" stroke-width=".18">2005 INTERDOG®</text>
<text x="531.1" y="407.1" font-size="6.9" fill="#ee9a2e" font-weight="normal" text-anchor="start" textLength="52.6" lengthAdjust="spacingAndGlyphs" stroke="#ee9a2e" stroke-width=".18">2006 3D-Gene®</text>
<text x="539.6" y="314.3" font-size="6.9" fill="#ee9a2e" font-weight="normal" text-anchor="start" textLength="64.0" lengthAdjust="spacingAndGlyphs" stroke="#ee9a2e" stroke-width=".18">2007 CAREROAD®</text>
<text x="561.2" y="367.8" font-size="6.9" fill="#ee9a2e" font-weight="normal" text-anchor="start" textLength="56.3" lengthAdjust="spacingAndGlyphs" stroke="#ee9a2e" stroke-width=".18">2008 REMITCH®</text>
<text x="566.6" y="299.5" font-size="6.9" fill="#ee9a2e" font-weight="normal" text-anchor="start" textLength="79.4" lengthAdjust="spacingAndGlyphs" stroke="#ee9a2e" stroke-width=".18">2010 TORAYLIGHT®NV</text>
<text x="538.4" y="289.6" font-size="6.9" fill="#ee9a2e" font-weight="normal" text-anchor="start" textLength="57.2" lengthAdjust="spacingAndGlyphs" stroke="#ee9a2e" stroke-width=".18">2014 RAY-FAST®</text>
<text x="233.0" y="539.4" font-size="6.9" fill="#3d7fc6" font-weight="normal" text-anchor="start" textLength="13.5" lengthAdjust="spacingAndGlyphs" stroke="#3d7fc6" stroke-width=".18">1971</text>
<text x="233.4" y="546.2" font-size="6.9" fill="#3d7fc6" font-weight="normal" text-anchor="start" textLength="42.3" lengthAdjust="spacingAndGlyphs" stroke="#3d7fc6" stroke-width=".18">Carbon Fiber</text>
<text x="233.4" y="552.7" font-size="6.9" fill="#3d7fc6" font-weight="normal" text-anchor="start" textLength="39.2" lengthAdjust="spacingAndGlyphs" stroke="#3d7fc6" stroke-width=".18">TORAYCA®</text>
<text x="396.9" y="523.7" font-size="6.9" fill="#3d7fc6" font-weight="normal" text-anchor="start" textLength="166.1" lengthAdjust="spacingAndGlyphs" stroke="#3d7fc6" stroke-width=".18">1990 CFRP for primary structural material in aircraft</text>
<text x="481.5" y="456.4" font-size="6.9" fill="#3d7fc6" font-weight="normal" text-anchor="start" textLength="104.2" lengthAdjust="spacingAndGlyphs" stroke="#3d7fc6" stroke-width=".18">2000 CFRP for automobile parts</text>
<text x="531.1" y="393.2" font-size="6.9" fill="#3d7fc6" font-weight="normal" text-anchor="start" textLength="87.2" lengthAdjust="spacingAndGlyphs" stroke="#3d7fc6" stroke-width=".18">2006 CFRP for PC chassis</text>
<text x="283.5" y="520.0" font-size="6.9" fill="#1a9a96" font-weight="normal" text-anchor="start" textLength="57.5" lengthAdjust="spacingAndGlyphs" stroke="#1a9a96" stroke-width=".18">1977 TORELIEF®</text>
<text x="182.0" y="475.6" font-size="6.9" fill="#1a9a96" font-weight="normal" text-anchor="start" textLength="116.0" lengthAdjust="spacingAndGlyphs" stroke="#1a9a96" stroke-width=".18">1979TORAY WATERLESS PLATE®</text>
<text x="351.4" y="449.5" font-size="6.9" fill="#1a9a96" font-weight="normal" text-anchor="start" textLength="73.2" lengthAdjust="spacingAndGlyphs" stroke="#1a9a96" stroke-width=".18">1985 PHOTONEECE®</text>
<text x="290.0" y="400.7" font-size="6.9" fill="#1a9a96" font-weight="normal" text-anchor="start" textLength="104.6" lengthAdjust="spacingAndGlyphs" stroke="#1a9a96" stroke-width=".18">1992 LUMIRROR® for data tape</text>
<text x="348.3" y="466.2" font-size="6.9" fill="#1a9a96" font-weight="normal" text-anchor="start" textLength="56.7" lengthAdjust="spacingAndGlyphs" stroke="#1a9a96" stroke-width=".18">1993 Color Filters</text>
<text x="476.1" y="472.6" font-size="6.9" fill="#1a9a96" font-weight="normal" text-anchor="start" textLength="84.9" lengthAdjust="spacingAndGlyphs" stroke="#1a9a96" stroke-width=".18">1999 Toray waterless CTP</text>
<text x="481.5" y="442.2" font-size="6.9" fill="#1a9a96" font-weight="normal" text-anchor="start" textLength="67.4" lengthAdjust="spacingAndGlyphs" stroke="#1a9a96" stroke-width=".18">2000 PDP rear panel</text>
<text x="488.3" y="431.2" font-size="6.9" fill="#1a9a96" font-weight="normal" text-anchor="start" textLength="115.0" lengthAdjust="spacingAndGlyphs" stroke="#1a9a96" stroke-width=".18">2001 Semi-transparent Color Filters</text>
</g>
<ellipse cx="53.4" cy="604.2" rx="27.2" ry="26.4" fill="#1a9be2"/>
<text x="53.4" y="598.6" font-size="9.4" fill="#fff" font-weight="normal" text-anchor="middle" textLength="20.7" lengthAdjust="spacingAndGlyphs">1926</text>
<text x="53.1" y="611.2" font-size="9.4" fill="#fff" font-weight="normal" text-anchor="middle" textLength="48" lengthAdjust="spacingAndGlyphs">Foundation</text>
</g>
<g filter="url(#soft3)">
<rect x="665.1" y="327" width="4.8" height="189.4" fill="url(#gy)"/>
<polygon points="667.5,315.5 661.2,328.6 673.8,328.6" fill="#141414"/>
<rect x="665.1" y="511.4" width="221" height="5" fill="url(#gx)"/>
<polygon points="895.2,513.8 884.6,507 884.6,520.6" fill="#141414"/>
<ellipse cx="786.4" cy="413" rx="49" ry="55.6" fill="#c4cdd8"/>
<ellipse cx="871.4" cy="345.9" rx="24.5" ry="29.5" fill="#231815"/>
<ellipse cx="701.3" cy="471.5" rx="24.3" ry="29.5" fill="#184a9c"/>
<line x1="826.6" y1="439.9" x2="894.9" y2="439.9" stroke="#2a2626" stroke-width="1"/>
<circle cx="826.8" cy="439.9" r="1.5" fill="#2a2626"/>
<text x="871.4" y="343.7" font-size="11.5" fill="#fff" font-weight="bold" text-anchor="middle" textLength="35" lengthAdjust="spacingAndGlyphs">Regular</text>
<text x="870.6" y="360.1" font-size="11.5" fill="#fff" font-weight="bold" text-anchor="middle" textLength="17.8" lengthAdjust="spacingAndGlyphs">Tow</text>
<text x="700.8" y="470.1" font-size="11.5" fill="#fff" font-weight="bold" text-anchor="middle" textLength="26.5" lengthAdjust="spacingAndGlyphs">Large</text>
<text x="701.4" y="486.5" font-size="11.5" fill="#fff" font-weight="bold" text-anchor="middle" textLength="17.9" lengthAdjust="spacingAndGlyphs">Tow</text>
<text x="825.3" y="461.3" font-size="12.5" fill="#352f2f" font-weight="bold" text-anchor="start" textLength="69.5" lengthAdjust="spacingAndGlyphs" >Good Quallity</text>
<text x="823.0" y="479.2" font-size="12.5" fill="#352f2f" font-weight="bold" text-anchor="start" textLength="71.8" lengthAdjust="spacingAndGlyphs" >Good Support</text>
<text x="811.7" y="497.4" font-size="12.5" fill="#352f2f" font-weight="bold" text-anchor="start" textLength="83.1" lengthAdjust="spacingAndGlyphs" >Affordable Price</text>
<text x="780.0" y="529.5" font-size="10" fill="#423c3c" font-weight="bold" text-anchor="middle" textLength="21" lengthAdjust="spacingAndGlyphs">Price</text>
<text transform="translate(660.7,415.8) rotate(-90)" text-anchor="middle" font-size="8.6" font-weight="bold" fill="#1c1c1c" stroke="#1c1c1c" stroke-width=".25" textLength="35" lengthAdjust="spacingAndGlyphs">Quality</text>
<text x="748.0" y="407.3" font-size="13.3" fill="#2a2a2e" font-weight="bold" text-anchor="start" textLength="59.0" lengthAdjust="spacingAndGlyphs" font-style="italic">TORAYCA</text>
<text x="810.4" y="402.5" font-size="9" fill="#2a2a2e" font-weight="bold" text-anchor="start" textLength="13.1" lengthAdjust="spacingAndGlyphs" font-style="italic">GT</text>
<text x="785.8" y="427.4" font-size="8.3" fill="#2a2a2e" font-weight="bold" text-anchor="middle" textLength="32.7" lengthAdjust="spacingAndGlyphs">Z600-24K</text>
</g>
</svg>
<div class="note">
<p style="top:3.9px"><span class="fit " style="width:54.60px;font:13px/16px 'Liberation Sans',sans-serif"><span style="transform:scaleX(0.9563)">Z600-24K</span></span>是<span class="fit " style="width:32.70px;font:13px/16px 'Liberation Sans',sans-serif"><span style="transform:scaleX(0.7501)">TORAY</span></span><span class="fit sup" style="width:5.60px;font:8px/16px 'Liberation Sans',sans-serif"><span style="transform:scaleX(0.9481)">®</span></span><span class="fit " style="width:12.80px;font:13px/16px 'Liberation Sans',sans-serif"><span style="transform:scaleX(0.7087)">GT</span></span>系列全新碳纤维，</p>
<p style="top:20.6px">具有实惠的价格和出众的纤维品质，于</p>
<p style="top:35.6px"><span class="fit " style="width:40.00px;font:13px/16px 'Liberation Sans',sans-serif"><span style="transform:scaleX(1.0059)">2019.5</span></span>上市。</p>
</div>
<div class="rule" style="left:3px;top:634.8px;width:912.6px"></div>
<div class="abs src">资料来源：公司官网，方正证券研究所</div>
<div class="abs wm">头条 @未来智库</div>
</body></html>
